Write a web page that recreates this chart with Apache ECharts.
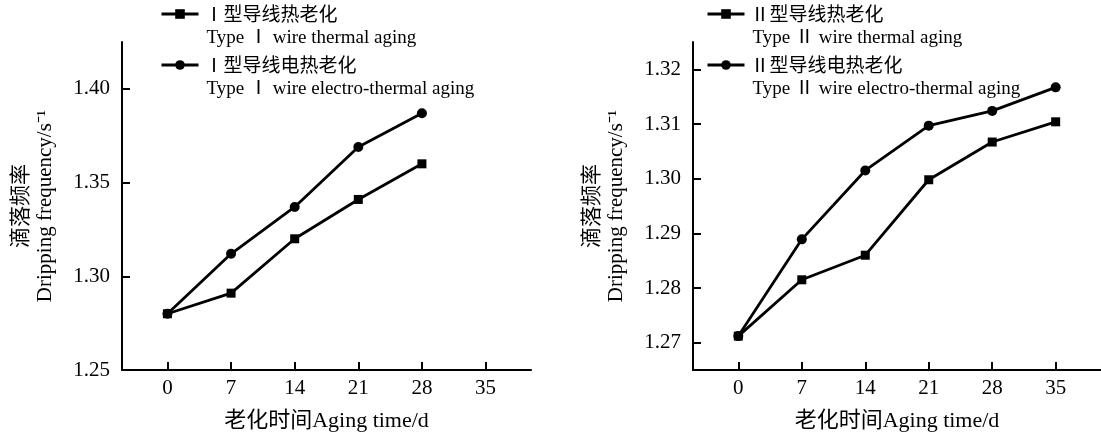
<!DOCTYPE html>
<html>
<head>
<meta charset="utf-8">
<script src="https://cdn.jsdelivr.net/npm/echarts@6/dist/echarts.min.js"></script>
<style>html,body{margin:0;padding:0;background:#fff;}#c{width:1101px;height:437px;}</style>
</head>
<body>
<div id="c"></div>
<script>
// ---- data ----
var daysA = [0, 7, 14, 21, 28];
var thermalA = [1.280, 1.291, 1.320, 1.341, 1.360];
var electroA = [1.280, 1.312, 1.337, 1.369, 1.387];

var daysB = [0, 7, 14, 21, 28, 35];
var thermalB = [1.2712, 1.2815, 1.2860, 1.2998, 1.3067, 1.3104];
var electroB = [1.2712, 1.2889, 1.3015, 1.3097, 1.3124, 1.3167];

var xTicks = [0, 7, 14, 21, 28, 35];
var yTicksA = [1.25, 1.30, 1.35, 1.40];
var yTicksB = [1.27, 1.28, 1.29, 1.30, 1.31, 1.32];

var namesA = [['Ⅰ型导线热老化', 'Type Ⅰ wire thermal aging'], ['Ⅰ型导线电热老化', 'Type Ⅰ wire electro-thermal aging']];
var namesB = [['Ⅱ型导线热老化', 'Type Ⅱ wire thermal aging'], ['Ⅱ型导线电热老化', 'Type Ⅱ wire electro-thermal aging']];
var xName = '老化时间Aging time/d';
var yNameZh = '滴落频率';
var yNameEn = 'Dripping frequency/s⁻¹';

function pairs(xs, ys) { return xs.map(function (x, i) { return [x, ys[i]]; }); }

var SERIF = '"Liberation Serif", "Noto Sans CJK SC", serif';
var CJK = '"Noto Sans CJK SC", "Liberation Serif", sans-serif';

function xAxis(gi) {
  return {
    type: 'value', gridIndex: gi, min: -5, max: 40,
    name: xName, nameLocation: 'middle', nameGap: 40,
    nameTextStyle: { fontFamily: SERIF, fontSize: 22, color: '#000' },
    axisLine: { onZero: false, lineStyle: { color: '#000', width: 2 } },
    axisTick: { inside: true, length: 8, lineStyle: { color: '#000', width: 2 }, customValues: xTicks },
    axisLabel: { customValues: xTicks, color: '#000', fontFamily: SERIF, fontSize: 21, margin: 8 },
    splitLine: { show: false }
  };
}
function yAxis(gi, min, max, ticks) {
  return {
    type: 'value', gridIndex: gi, min: min, max: max,
    name: '{a|' + yNameZh + '}\n{b|' + yNameEn + '}',
    nameLocation: 'middle', nameGap: 64, nameRotate: 90,
    nameTextStyle: {
      color: '#000',
      rich: {
        a: { fontFamily: CJK, fontSize: 21, lineHeight: 26, color: '#000' },
        b: { fontFamily: SERIF, fontSize: 21, lineHeight: 26, color: '#000' }
      }
    },
    axisLine: { show: true, onZero: false, lineStyle: { color: '#000', width: 2 } },
    axisTick: { show: true, inside: true, length: 8, lineStyle: { color: '#000', width: 2 }, customValues: ticks },
    axisLabel: { customValues: ticks, color: '#000', fontFamily: SERIF, fontSize: 21, margin: 12,
      formatter: function (v) { return v.toFixed(2); } },
    splitLine: { show: false }
  };
}
function series(name, gi, xs, ys, sym, size) {
  return {
    type: 'line', name: name, xAxisIndex: gi, yAxisIndex: gi,
    data: pairs(xs, ys), symbol: sym, symbolSize: size, showSymbol: true,
    lineStyle: { color: '#000', width: 2.8 }, itemStyle: { color: '#000' },
    animation: false, z: 3
  };
}
function legend(left, top, nm) {
  return {
    left: left, top: top, orient: 'vertical', data: [nm[0]],
    itemWidth: 37, itemHeight: 12, selectedMode: false,
    lineStyle: { width: 3, color: '#000' },
    formatter: function () { return '{s| }\n{a|' + nm[0] + '}\n{b|' + nm[1] + '}'; },
    textStyle: {
      color: '#000',
      rich: {
        s: { fontSize: 12, lineHeight: 24 },
        a: { fontFamily: CJK, fontSize: 19, lineHeight: 24, color: '#000', padding: [0, 0, 0, 1] },
        b: { fontFamily: SERIF, fontSize: 19, lineHeight: 24, color: '#000', padding: [0, 0, 0, 3] }
      }
    }
  };
}

var chart = echarts.init(document.getElementById('c'), null, { renderer: 'canvas' });
chart.setOption({
  backgroundColor: '#fff',
  animation: false,
  grid: [
    { left: 122, right: 570, top: 42, bottom: 66 },
    { left: 693, right: 0, top: 42, bottom: 66 }
  ],
  xAxis: [xAxis(0), xAxis(1)],
  yAxis: [yAxis(0, 1.25, 1.425, yTicksA), yAxis(1, 1.265, 1.325, yTicksB)],
  legend: [
    legend(155, -21, namesA[0]), legend(155, 30, namesA[1]),
    legend(701, -21, namesB[0]), legend(701, 30, namesB[1])
  ],
  series: [
    series(namesA[0][0], 0, daysA, thermalA, 'rect', 9),
    series(namesA[1][0], 0, daysA, electroA, 'circle', 10),
    series(namesB[0][0], 1, daysB, thermalB, 'rect', 9),
    series(namesB[1][0], 1, daysB, electroB, 'circle', 10)
  ]
});
</script>
</body>
</html>
